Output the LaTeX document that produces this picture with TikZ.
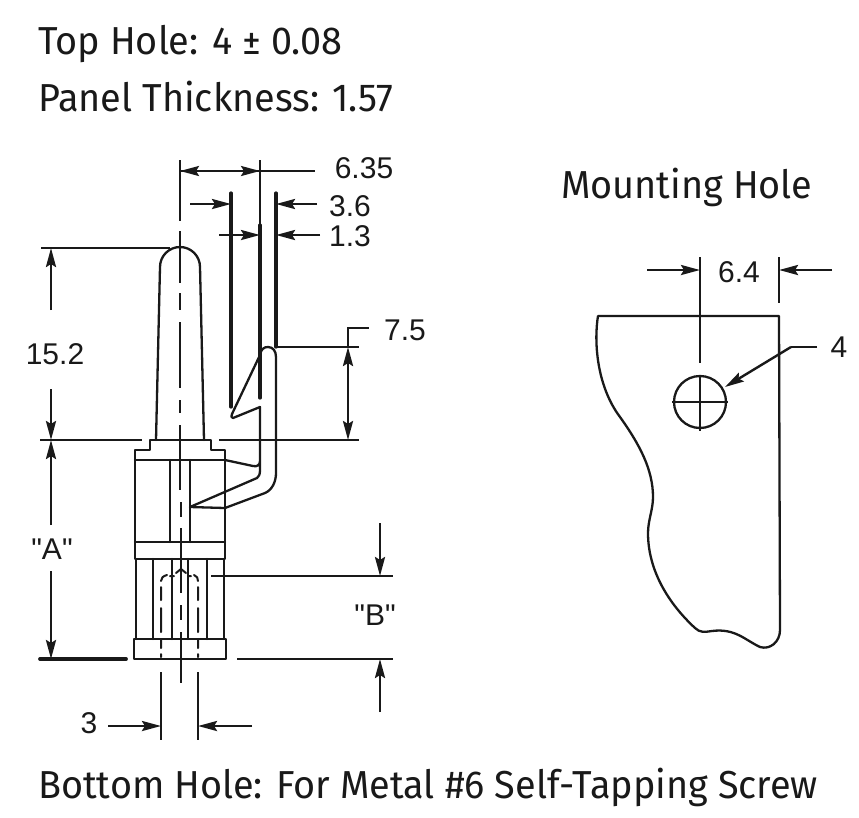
\documentclass[tikz,border=0pt]{standalone}
\usepackage{fontspec}
\setmainfont{Liberation Sans}
\newfontfamily\labelfont{Liberation Sans}
\newfontfamily\headfont[FakeStretch=0.97]{Fira Sans}
\usetikzlibrary{arrows.meta}
\tikzset{
  part/.style={line width=2.3pt,line join=round,line cap=round,draw=black!90},
  dimline/.style={line width=2.3pt,draw=black!90},
  heavyline/.style={line width=3.2pt,draw=black!90,line cap=round},
  dimarrow/.style={line width=2.8pt,draw=black!90,-{Stealth[length=19pt,width=10pt,inset=3pt]}},
  dimlabel/.style={font=\labelfont\fontsize{30}{30}\selectfont,text=black!90,inner sep=0pt},
  heading/.style={font=\headfont\fontsize{39}{39}\selectfont,text=black!90,inner sep=0pt,anchor=base west}
}
\begin{document}
\begin{tikzpicture}[x=1pt,y=-1pt]
\useasboundingbox (0,0) rectangle (859,817);
\fill[white] (0,0) rectangle (859,817);
% headings
\node[heading] (h1) at (38,54) {Top Hole: 4 ± 0.08};
\node[heading] (h2) at (38,111) {Panel Thickness: 1.57};
\node[heading] (h3) at (561,198) {Mounting Hole};
\node[heading] (h4) at (38,798) {Bottom Hole: For Metal \#6 Self-Tapping Screw};
% centre line
\draw[dimline,line width=2pt] (180,160)--(180,221) (180,231)--(180,283) (180,293)--(180,310) (180,322)--(180,388) (180,400)--(180,413) (180,425)--(180,490)
 (181,502)--(181,517) (181,528)--(181,593) (181,605)--(181,620) (181,632)--(181,683);
% pin
\draw[part] (156,440)--(160,267) arc[start angle=180,end angle=360,radius=20]--(204,440);
\draw[part] (135,460)--(135,450)--(150,450)--(150,440)--(211,440)--(211,450)--(225,450)--(225,559)--(135,559)--cycle;
\draw[part] (135,460)--(225,460) (135,542)--(225,542) (170,460)--(170,542) (190,460)--(190,542);
\draw[part] (136,559)--(136,639) (153,559)--(153,639) (172,559)--(172,639) (188,559)--(188,639) (207,559)--(207,639) (224,559)--(224,639);
\draw[part] (134,639) rectangle (226,659);
% hook
\draw[part] (225,460)--(253,466) .. controls (257,467) and (260,465) .. (260,461)--(260,407)--(233,418) .. controls (231,418) and (231,416) .. (232,414)--(260,355) .. controls (261,349) and (264,347) .. (268,347) .. controls (273,347) and (276,351) .. (276,357)--(276,473) .. controls (276,482) and (272,490) .. (265,493)--(225,508)--(190,507)--(257,478) .. controls (259,477) and (260,474) .. (260,470)--(260,461);
% hidden hole
\draw[part,line width=2pt] (161,654)--(161,657) (161,640)--(161,648) (161,608)--(161,632) (161,587)--(161,600) (161,581) .. controls (161,578) and (163,576) .. (167,575) (170,576)--(174,576) (176,573)--(181,569)--(186,573) (188,576)--(191,576) (194,575) .. controls (197,576) and (198,578) .. (198,581) (198,587)--(198,600) (198,608)--(198,632) (198,640)--(198,648) (198,654)--(198,657);
% extension lines
\draw[dimline] (260,160)--(260,225);
\draw[heavyline] (260,225)--(260,398) (231,193)--(231,407) (276,193)--(276,347);
\draw[dimline] (41,248)--(170,248) (40,440)--(142,440) (219,440)--(359,440) (276,347)--(359,347) (348,347)--(348,328)--(369,328);
\draw[heavyline,line width=3.8pt] (40,659)--(126,659);
\draw[dimline] (237,659)--(393,659) (211,576)--(393,576) (161,672)--(161,740) (198,672)--(198,740);
\draw[dimline] (260,171)--(315,171);
% dimension arrows
\coordinate (a) at (180,171); \coordinate (b) at (260,171);
\draw[dimline] (a)--(b);
\draw[dimarrow,line width=2.3pt] (220,171)--(a); \draw[dimarrow,line width=2.3pt] (220,171)--(b);
\draw[dimarrow] (190,204)--(231,204);
\draw[dimarrow] (317,204)--(276,204);
\draw[dimarrow] (219,235)--(260,235);
\draw[dimarrow] (320,235)--(276,235);
\draw[dimarrow] (51,310)--(51,248);
\draw[dimarrow] (51,389)--(51,440);
\draw[dimarrow] (51,525)--(51,440);
\draw[dimarrow] (51,571)--(51,659);
\draw[dimarrow] (348,395)--(348,347);
\draw[dimarrow] (348,395)--(348,440);
\draw[dimarrow] (380,523)--(380,576);
\draw[dimarrow] (380,712)--(380,659);
\draw[dimarrow] (108,726)--(161,726);
\draw[dimarrow] (252,726)--(198,726);
% labels
\node[dimlabel] (l1) at (364,168) {6.35};
\node[dimlabel] (l2) at (350,206) {3.6};
\node[dimlabel] (l3) at (350,236) {1.3};
\node[dimlabel] (l4) at (405,330) {7.5};
\node[dimlabel] (l5) at (55,354) {15.2};
\node[dimlabel] (l6) at (52,549) {"A"};
\node[dimlabel] (l7) at (375,615) {"B"};
\node[dimlabel] (l8) at (89,723) {3};
\node[dimlabel] (l9) at (739,272) {6.4};
\node[dimlabel] (l10) at (839,347) {4};
% mounting hole
\draw[part] (780,630)--(779,316)--(598,316) .. controls (594,340) and (596,385) .. (620,417) .. controls (640,445) and (653,470) .. (653,497) .. controls (653,510) and (648,520) .. (648,533) .. controls (648,570) and (668,603) .. (695,628) .. controls (700,633) and (705,632) .. (712,631) .. controls (735,628) and (745,640) .. (760,647) .. controls (770,650) and (780,642) .. (780,630);
\draw[dimline] (700,257)--(700,363) (779,257)--(779,303);
\draw[dimarrow] (647,270)--(700,270);
\draw[dimarrow] (832,270)--(779,270);
\node[draw=black!90,line width=2.3pt,circle,minimum size=52pt,inner sep=0pt] (hole) at (700,402) {};
\draw[dimline] (672,402)--(728,402) (700,375)--(700,431);
\draw[dimline] (817,347)--(791,347);
\draw[dimarrow,line width=2.4pt] (791,347)--(725,387);
\end{tikzpicture}
\end{document}
